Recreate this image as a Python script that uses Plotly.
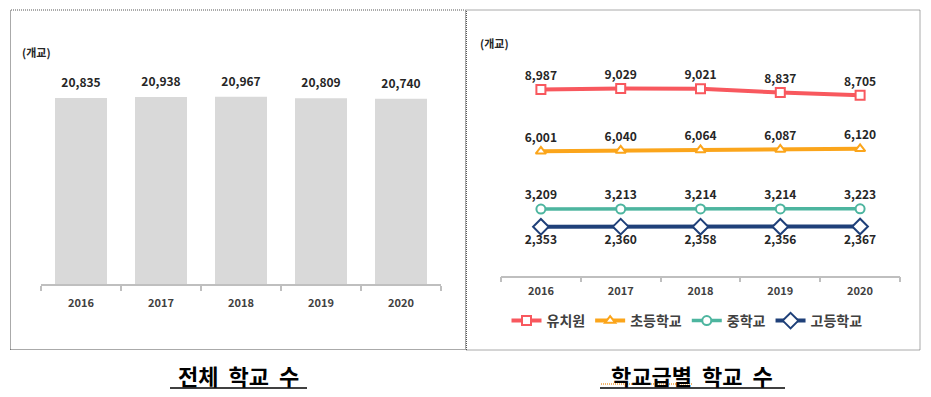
import plotly.graph_objects as go

# page body has an 8px default margin, so the figure is drawn 8px in
OFF = 8
W, H = 931 - OFF, 397 - OFF

years = ["2016", "2017", "2018", "2019", "2020"]
total_schools = [20835, 20938, 20967, 20809, 20740]

series_names = ["유치원", "초등학교", "중학교", "고등학교"]
kindergarten = [8987, 9029, 9021, 8837, 8705]
elementary = [6001, 6040, 6064, 6087, 6120]
middle = [3209, 3213, 3214, 3214, 3223]
high = [2353, 2360, 2358, 2356, 2367]

unit_label = "(개교)"
title_left = "전체\u00a0\u00a0학교\u00a0\u00a0수"
title_right = "학교급별\u00a0\u00a0학교\u00a0\u00a0수"


def px(x):
    return (x - OFF) / W


def py(y):
    return 1 - (y - OFF) / H


FONT = "Noto Sans CJK KR"
fig = go.Figure()

fig.add_trace(go.Bar(
    x=years, y=total_schools, xaxis="x", yaxis="y",
    marker=dict(color="#D9D9D9", line=dict(width=0)),
    showlegend=False, hoverinfo="x+y",
))
# value labels above bars (invisible markers give the label offset)
fig.add_trace(go.Scatter(
    x=years, y=total_schools, xaxis="x", yaxis="y",
    mode="markers+text", marker=dict(size=11, opacity=0),
    text=[f"{v:,}" for v in total_schools], textposition="top center",
    textfont=dict(family=FONT, size=12, color="#262626", weight="bold"),
    cliponaxis=False, showlegend=False, hoverinfo="skip",
))

styles = [
    (kindergarten, "#F8585E", "square", 9, 4, "top center"),
    (elementary, "#FBA51B", "triangle-up", 9, 4, "top center"),
    (middle, "#4DB59F", "circle", 9, 3.5, "top center"),
    (high, "#1F4079", "diamond", 12, 4, "bottom center"),
]
for name, (vals, col, sym, size, lw, tpos) in zip(series_names, styles):
    fig.add_trace(go.Scatter(
        x=years, y=vals, xaxis="x2", yaxis="y2", name=name,
        mode="lines+markers+text",
        line=dict(color=col, width=lw),
        marker=dict(symbol=sym, size=size, color="white", line=dict(color=col, width=2)),
        text=[f"{v:,}" for v in vals], textposition=tpos,
        textfont=dict(family=FONT, size=12, color="#262626", weight="bold"),
        cliponaxis=False,
    ))

axis_common = dict(
    type="category", showline=True, linecolor="#BFBFBF", linewidth=1.5,
    ticks="outside", tickson="boundaries", ticklen=5, tickcolor="#BFBFBF", tickwidth=1.5,
    tickfont=dict(family=FONT, size=11, color="#404040", weight="bold"),
    showgrid=False, zeroline=False, range=[-0.5, 4.5], fixedrange=True,
)

fig.update_layout(
    width=W, height=H, margin=dict(l=0, r=0, t=0, b=0),
    paper_bgcolor="white", plot_bgcolor="white",
    bargap=0.35,
    xaxis=dict(domain=[px(41), px(441)], anchor="y", ticklabelstandoff=8, **axis_common),
    yaxis=dict(domain=[py(284), py(60.8)], range=[0, 25000], visible=False),
    xaxis2=dict(domain=[px(501), px(900)], anchor="y2", ticklabelstandoff=5, **axis_common),
    yaxis2=dict(domain=[py(275.5), py(68.5)], range=[0, 10000], visible=False),
    legend=dict(orientation="h", x=px(687), xanchor="center", y=py(321), yanchor="middle",
                font=dict(family=FONT, size=14, color="#404040", weight="bold"),
                itemwidth=30, tracegroupgap=0, bgcolor="rgba(0,0,0,0)"),
    showlegend=True,
)

shapes = [
    dict(type="rect", xref="paper", yref="paper", x0=px(10.5), x1=px(465.5), y0=py(349.5), y1=py(10),
         line=dict(color="#555555", width=1, dash="1px,1px")),
    dict(type="rect", xref="paper", yref="paper", x0=px(466.5), x1=px(920), y0=py(350), y1=py(10),
         line=dict(color="#555555", width=1, dash="1px,1px")),
    dict(type="line", xref="paper", yref="paper", x0=px(170), x1=px(307), y0=py(388), y1=py(388),
         line=dict(color="#404040", width=2)),
    dict(type="line", xref="paper", yref="paper", x0=px(600), x1=px(785), y0=py(388), y1=py(388),
         line=dict(color="#404040", width=2)),
    dict(type="line", xref="paper", yref="paper", x0=px(601), x1=px(692), y0=py(384), y1=py(384),
         line=dict(color="#F0A040", width=1.5, dash="1px,1px")),
]

annotations = [
    dict(text=unit_label, x=px(20), y=py(52), xref="paper", yref="paper", xanchor="left", yanchor="middle",
         showarrow=False, font=dict(family=FONT, size=11, color="#262626", weight="bold")),
    dict(text=unit_label, x=px(478), y=py(43), xref="paper", yref="paper", xanchor="left", yanchor="middle",
         showarrow=False, font=dict(family=FONT, size=11, color="#262626", weight="bold")),
    dict(text=title_left, x=px(238), y=py(375), xref="paper", yref="paper", xanchor="center", yanchor="middle",
         showarrow=False, font=dict(family=FONT, size=22, color="#000000", weight="bold")),
    dict(text=title_right, x=px(692), y=py(375), xref="paper", yref="paper", xanchor="center", yanchor="middle",
         showarrow=False, font=dict(family=FONT, size=22, color="#000000", weight="bold")),
]

fig.update_layout(shapes=shapes, annotations=annotations)
fig.write_html("out.html")
